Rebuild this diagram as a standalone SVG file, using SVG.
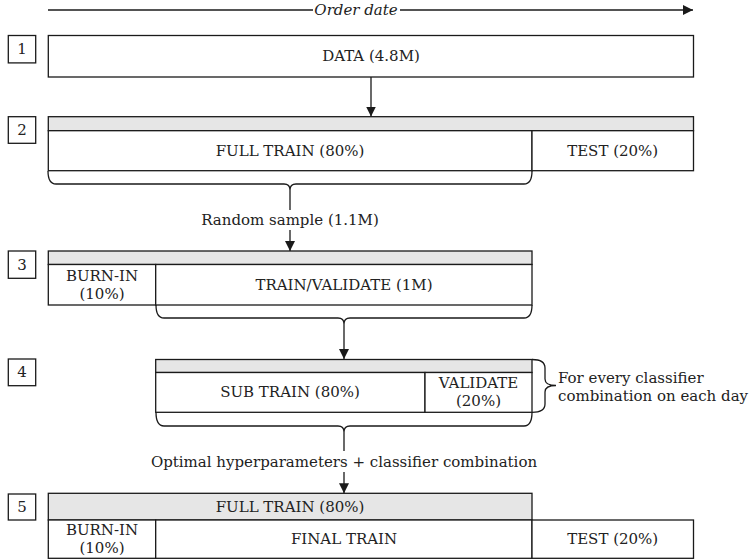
<svg xmlns="http://www.w3.org/2000/svg" width="751" height="560" viewBox="0 0 751 560">
<style>
  text { font-family: "DejaVu Serif", "Liberation Serif", serif; font-size: 15px; fill: #222; text-anchor: middle; dominant-baseline: central; }
  .box { fill: #fff; stroke: #1a1a1a; stroke-width: 1.3; }
  .bar { fill: #e6e6e6; stroke: #1a1a1a; stroke-width: 1.3; }
  .ln { fill: none; stroke: #1a1a1a; stroke-width: 1.3; }
  .bg { fill: #fff; }
  .left { text-anchor: start; }
</style>
<defs>
  <marker id="ah" viewBox="0 0 10 10" refX="10" refY="5" markerWidth="10" markerHeight="10" markerUnits="userSpaceOnUse" orient="auto">
    <path d="M0,0 L10,5 L0,10 z" fill="#1a1a1a"/>
  </marker>
</defs>
<rect width="751" height="560" fill="#fff"/>

<g id="connectors">
  <line class="ln" x1="48" y1="10" x2="693" y2="10" marker-end="url(#ah)"/>
  <line class="ln" x1="371" y1="77" x2="371" y2="116.5" marker-end="url(#ah)"/>
  <path class="ln" d="M48,171 Q48,184 56,184 L284,184 Q290,184 290,190 Q290,184 296,184 L524,184 Q532,184 532,171"/>
  <line class="ln" x1="290" y1="190" x2="290" y2="251" marker-end="url(#ah)"/>
  <path class="ln" d="M156,305 Q156,318 164,318 L338,318 Q344,318 344,324 Q344,318 350,318 L524,318 Q532,318 532,305"/>
  <line class="ln" x1="344" y1="324" x2="344" y2="359" marker-end="url(#ah)"/>
  <path class="ln" d="M532,359.5 Q545,359.5 545,368 L545,379 Q545,385.5 556,385.5 Q545,385.5 545,392 L545,404 Q545,412.3 532,412.3"/>
  <path class="ln" d="M156,412.3 Q156,426 164,426 L338,426 Q344,426 344,432 Q344,426 350,426 L524,426 Q532,426 532,412.3"/>
  <line class="ln" x1="344" y1="432" x2="344" y2="493.3" marker-end="url(#ah)"/>
</g>

<g id="axis-label">
  <rect class="bg" x="313" y="2" width="87" height="16"/>
  <text x="356" y="10" font-style="italic" font-size="14.5">Order date</text>
</g>

<g id="step1">
  <rect class="box" x="8.3" y="35.5" width="27.4" height="27.4"/>
  <text x="22" y="49.2">1</text>
  <rect class="box" x="48.3" y="35.5" width="645.2" height="41.5"/>
  <text x="371" y="56.3">DATA (4.8M)</text>
</g>

<g id="step2">
  <rect class="box" x="8.3" y="116.7" width="27.4" height="26.6"/>
  <text x="22" y="130">2</text>
  <rect class="bar" x="48.3" y="116.7" width="645.2" height="14"/>
  <rect class="box" x="48.3" y="130.7" width="483.7" height="40"/>
  <text x="290" y="150.7">FULL TRAIN (80%)</text>
  <rect class="box" x="532" y="130.7" width="161.5" height="40"/>
  <text x="612.7" y="150.7">TEST (20%)</text>
</g>

<g id="sample-label">
  <rect class="bg" x="198" y="210" width="184" height="20"/>
  <text x="290" y="220">Random sample (1.1M)</text>
</g>

<g id="step3">
  <rect class="box" x="8.3" y="251" width="27.4" height="27.3"/>
  <text x="22" y="264.6">3</text>
  <rect class="bar" x="48.3" y="251" width="483.7" height="13.5"/>
  <rect class="box" x="48.3" y="264.5" width="107.4" height="40.5"/>
  <text x="102" y="276">BURN-IN</text>
  <text x="102" y="294">(10%)</text>
  <rect class="box" x="155.7" y="264.5" width="376.3" height="40.5"/>
  <text x="344" y="284.7">TRAIN/VALIDATE (1M)</text>
</g>

<g id="step4">
  <rect class="box" x="8.3" y="359" width="27.4" height="26.7"/>
  <text x="22" y="372.3">4</text>
  <rect class="bar" x="155.7" y="359.5" width="376.3" height="13"/>
  <rect class="box" x="155.7" y="372.5" width="269.3" height="39.8"/>
  <text x="290" y="392.4">SUB TRAIN (80%)</text>
  <rect class="box" x="425" y="372.5" width="107" height="39.8"/>
  <text x="478.5" y="383">VALIDATE</text>
  <text x="478.5" y="401">(20%)</text>
  <text class="left" x="558" y="378">For every classifier</text>
  <text class="left" x="558" y="396">combination on each day</text>
</g>

<g id="optimal-label">
  <rect class="bg" x="146" y="451" width="396" height="21"/>
  <text x="344" y="461.7">Optimal hyperparameters + classifier combination</text>
</g>

<g id="step5">
  <rect class="box" x="8.3" y="494" width="27.4" height="26"/>
  <text x="22" y="507">5</text>
  <rect class="bar" x="48.3" y="493.3" width="483.7" height="26.7"/>
  <text x="290" y="506.7">FULL TRAIN (80%)</text>
  <rect class="box" x="48.3" y="520" width="107.4" height="38.3"/>
  <text x="102" y="530">BURN-IN</text>
  <text x="102" y="548">(10%)</text>
  <rect class="box" x="155.7" y="520" width="376.3" height="38.3"/>
  <text x="344" y="539.2">FINAL TRAIN</text>
  <rect class="box" x="532" y="520" width="161.5" height="38.3"/>
  <text x="612.7" y="539.2">TEST (20%)</text>
</g>
</svg>
